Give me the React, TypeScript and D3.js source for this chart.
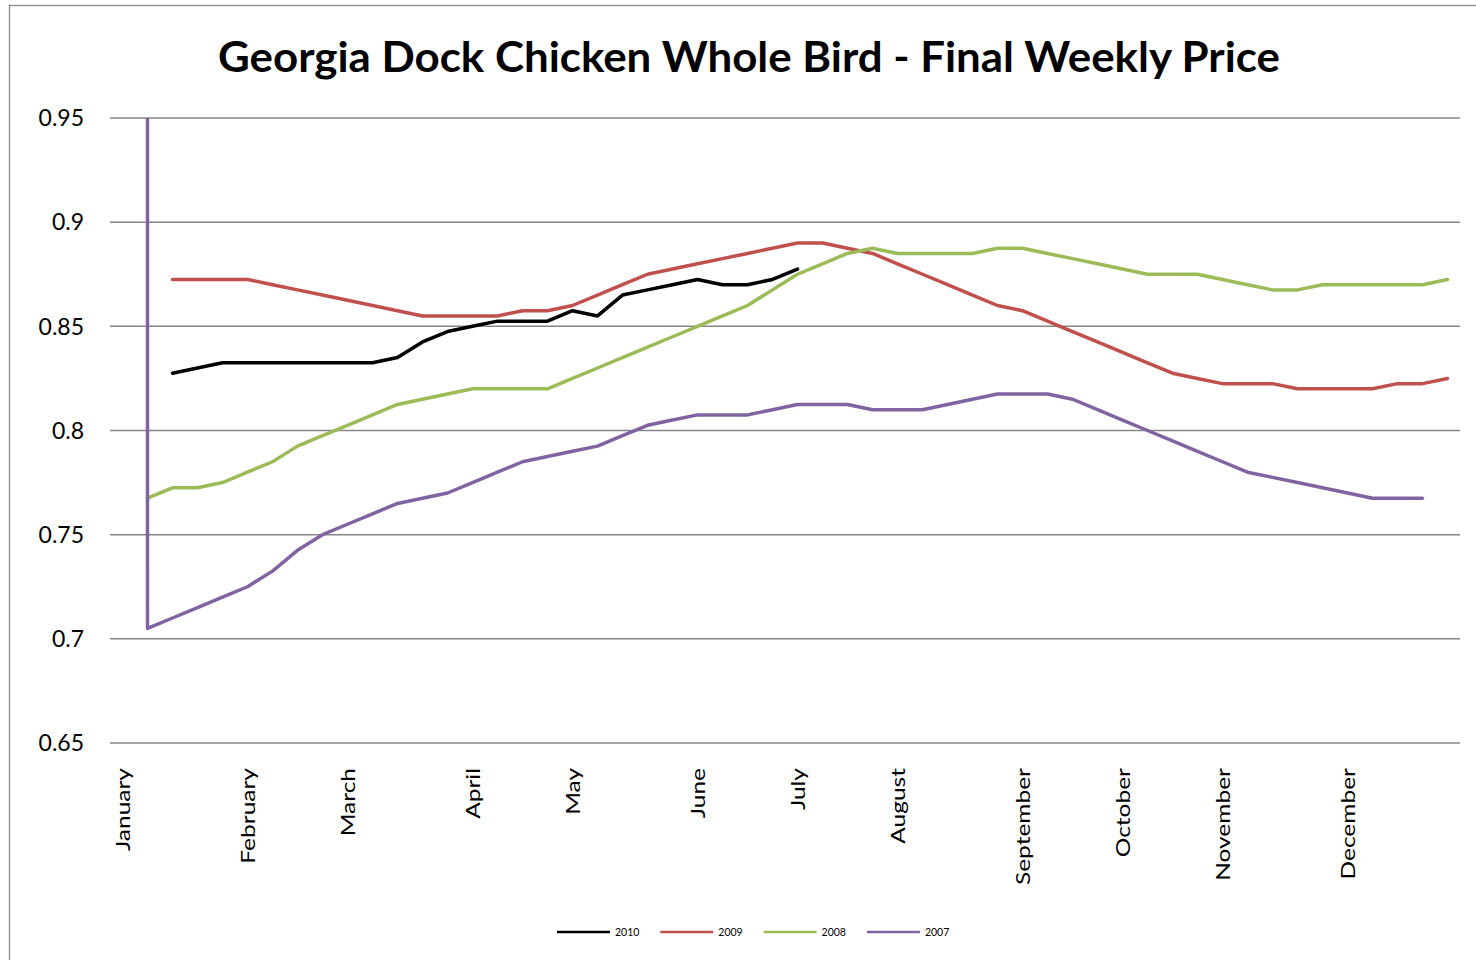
import React from 'react';
import * as d3 from 'd3';

// ---- Data (weekly categories; month names on the first week of each month) ----
const weekCount = 54;
const monthNames: string[] = [
  'January', 'February', 'March', 'April', 'May', 'June',
  'July', 'August', 'September', 'October', 'November', 'December',
];
const monthStartWeek: number[] = [0, 5, 9, 14, 18, 23, 27, 31, 36, 40, 44, 49];

const yTicks: number[] = [0.65, 0.7, 0.75, 0.8, 0.85, 0.9, 0.95];
const yTickLabels: string[] = ['0.65', '0.7', '0.75', '0.8', '0.85', '0.9', '0.95'];

const s2010: (number | null)[] = [
  null, null, 0.8275, 0.83, 0.8325, 0.8325, 0.8325, 0.8325, 0.8325, 0.8325,
  0.8325, 0.835, 0.8425, 0.8475, 0.85, 0.8525, 0.8525, 0.8525, 0.8575, 0.855,
  0.865, 0.8675, 0.87, 0.8725, 0.87, 0.87, 0.8725, 0.8775,
];
const s2009: (number | null)[] = [
  null, null, 0.8725, 0.8725, 0.8725, 0.8725, 0.87, 0.8675, 0.865, 0.8625,
  0.86, 0.8575, 0.855, 0.855, 0.855, 0.855, 0.8575, 0.8575, 0.86, 0.865,
  0.87, 0.875, 0.8775, 0.88, 0.8825, 0.885, 0.8875, 0.89, 0.89, 0.8875,
  0.885, 0.88, 0.875, 0.87, 0.865, 0.86, 0.8575, 0.8525, 0.8475, 0.8425,
  0.8375, 0.8325, 0.8275, 0.825, 0.8225, 0.8225, 0.8225, 0.82, 0.82, 0.82,
  0.82, 0.8225, 0.8225, 0.825,
];
const s2008: (number | null)[] = [
  null, 0.7675, 0.7725, 0.7725, 0.775, 0.78, 0.785, 0.7925, 0.7975, 0.8025,
  0.8075, 0.8125, 0.815, 0.8175, 0.82, 0.82, 0.82, 0.82, 0.825, 0.83,
  0.835, 0.84, 0.845, 0.85, 0.855, 0.86, 0.8675, 0.875, 0.88, 0.885,
  0.8875, 0.885, 0.885, 0.885, 0.885, 0.8875, 0.8875, 0.885, 0.8825, 0.88,
  0.8775, 0.875, 0.875, 0.875, 0.8725, 0.87, 0.8675, 0.8675, 0.87, 0.87,
  0.87, 0.87, 0.87, 0.8725,
];
// The first 2007 value is the year header picked up as a number (drawn off-scale, clipped).
const s2007: (number | null)[] = [
  2007, 0.705, 0.71, 0.715, 0.72, 0.725, 0.7325, 0.7425, 0.75, 0.755,
  0.76, 0.765, 0.7675, 0.77, 0.775, 0.78, 0.785, 0.7875, 0.79, 0.7925,
  0.7975, 0.8025, 0.805, 0.8075, 0.8075, 0.8075, 0.81, 0.8125, 0.8125, 0.8125,
  0.81, 0.81, 0.81, 0.8125, 0.815, 0.8175, 0.8175, 0.8175, 0.815, 0.81,
  0.805, 0.8, 0.795, 0.79, 0.785, 0.78, 0.7775, 0.775, 0.7725, 0.77,
  0.7675, 0.7675, 0.7675,
];

const seriesNames: string[] = ['2010', '2009', '2008', '2007'];
const seriesValues = [s2010, s2009, s2008, s2007];
const seriesColors: string[] = ['#000000', '#C0504D', '#9BBB59', '#8064A2'];

const title = 'Georgia Dock Chicken Whole Bird - Final Weekly Price';

export default function App() {
  const W = 1476;
  const H = 960;
  const plot = { left: 110, right: 1460, top: 118, bottom: 743 };

  const x = d3
    .scaleBand<number>()
    .domain(d3.range(weekCount))
    .range([plot.left, plot.right])
    .paddingInner(0)
    .paddingOuter(0);
  const cx = (i: number) => (x(i) as number) + x.bandwidth() / 2;
  const y = d3.scaleLinear().domain([0.65, 0.95]).range([plot.bottom, plot.top]);

  const line = d3
    .line<number | null>()
    .defined((d) => d != null)
    .x((_, i) => cx(i))
    .y((d) => y(d as number));

  const gridColor = '#868686';
  const font = 'Lato, "Open Sans", sans-serif';

  const legendStart = 557;
  const legendStep = 103.3;
  const legendY = 932;

  return (
    <svg
      width={W}
      height={H}
      style={{ position: 'absolute', left: 0, top: 0, background: '#fff' }}
      fontFamily={font}
    >
      <defs>
        <clipPath id="plotClip">
          <rect x={plot.left} y={plot.top} width={plot.right - plot.left} height={plot.bottom - plot.top} />
        </clipPath>
      </defs>
      <rect x={0} y={0} width={W} height={H} fill="#fff" />
      {/* chart border */}
      <rect x={9.5} y={5.5} width={W} height={H} fill="none" stroke="#8a8a8a" strokeWidth={1.3} />

      {/* title */}
      <text
        x={749}
        y={72}
        textAnchor="middle"
        fontSize={42}
        fontWeight={700}
        textLength={1062}
        lengthAdjust="spacingAndGlyphs"
        fill="#000"
      >
        {title}
      </text>

      {/* gridlines + y labels */}
      {yTicks.map((t, k) => (
        <g key={t}>
          <line x1={plot.left} x2={plot.right} y1={y(t)} y2={y(t)} stroke={gridColor} strokeWidth={1.5} />
          <text x={84} y={y(t)} dy="0.36em" textAnchor="end" fontSize={23} fill="#000">
            {yTickLabels[k]}
          </text>
        </g>
      ))}

      {/* x labels */}
      {monthNames.map((m, k) => {
        const px = cx(monthStartWeek[k]) + 7;
        return (
          <text
            key={m}
            transform={`translate(${px},768) rotate(-90) scale(1,0.8)`}
            textAnchor="end"
            fontSize={24.5}
            fill="#000"
          >
            {m}
          </text>
        );
      })}

      {/* series */}
      <g clipPath="url(#plotClip)">
        {seriesValues.map((vals, k) => (
          <path
            key={seriesNames[k]}
            d={line(vals) || ''}
            fill="none"
            stroke={seriesColors[k]}
            strokeWidth={3.5}
            strokeLinejoin="round"
            strokeLinecap="round"
          />
        ))}
      </g>

      {/* legend */}
      {seriesNames.map((n, k) => {
        const lx = legendStart + k * legendStep;
        return (
          <g key={n}>
            <line x1={lx} x2={lx + 53} y1={legendY} y2={legendY} stroke={seriesColors[k]} strokeWidth={2.3} />
            <text x={lx + 58} y={legendY} dy="0.36em" fontSize={10.5} fill="#000">
              {n}
            </text>
          </g>
        );
      })}
    </svg>
  );
}
